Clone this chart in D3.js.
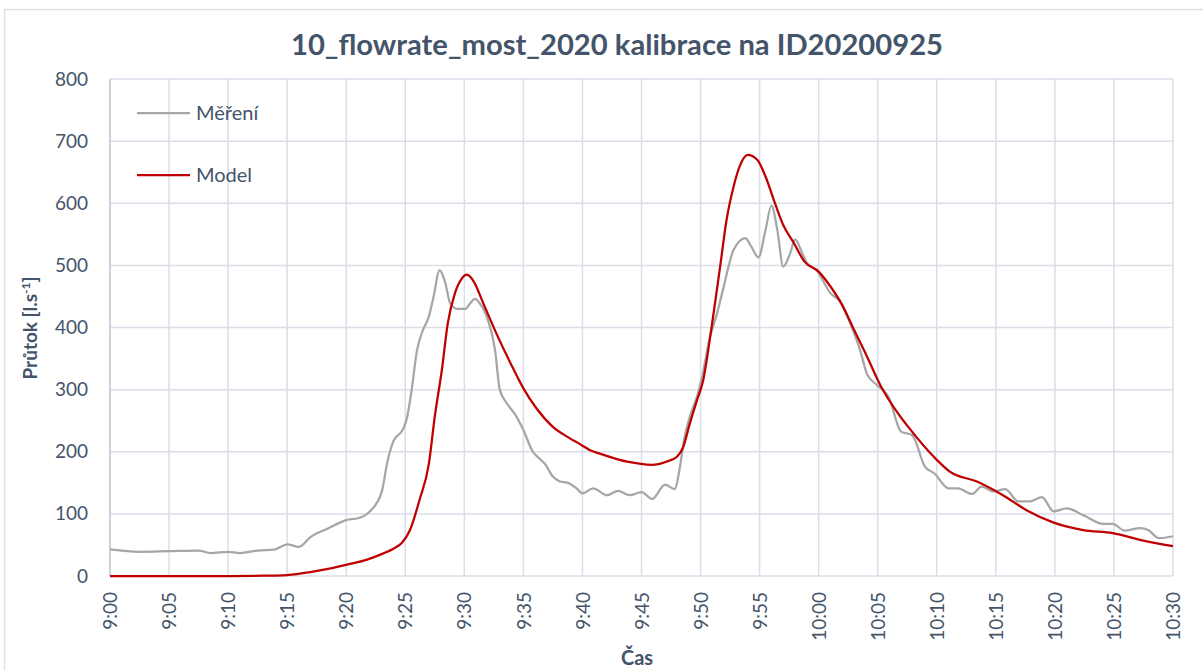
<!DOCTYPE html>
<html>
<head>
<meta charset="utf-8">
<script src="https://cdn.jsdelivr.net/npm/d3@7"></script>
<style>
  body { margin: 0; background: #fff; }
  svg { display: block; font-family: Lato, "Open Sans", sans-serif; }
</style>
</head>
<body>
<svg width="1203" height="670"></svg>
<script>
// minutes after 9:00 and flow [l/s]
var measMinutes = [0, 2.5, 5, 7.5, 8.5, 10, 11, 12.5, 14, 15, 16, 17, 18.5, 20, 21, 22, 23, 23.5, 24, 24.8, 25.1, 25.5, 26, 26.5, 27, 27.4, 27.9, 28.4, 28.8, 29.4, 30.1, 30.5, 30.9, 31.3, 32, 32.6, 33, 33.6, 34.4, 35, 35.8, 36.3, 36.8, 37.5, 38, 38.9, 39.5, 40, 40.9, 42.1, 43, 44, 45, 45.9, 47, 47.8, 48.3, 48.6, 49.1, 49.7, 50.1, 50.8, 51.4, 51.9, 52.8, 53.8, 54.3, 54.9, 55.5, 56, 56.5, 57, 57.6, 58, 58.6, 59, 59.8, 61, 61.8, 62.7, 63.5, 64.1, 64.9, 65.9, 67, 67.9, 69, 69.8, 71, 71.8, 73, 73.8, 74.8, 75.8, 76.9, 77.9, 78.9, 79.9, 81, 82.4, 84.1, 84.9, 85.9, 87.2, 87.9, 88.8, 90];
var measFlow = [43, 39, 40, 41, 37, 39, 37, 41, 43, 51, 47, 63, 77, 90, 93, 104, 135, 185, 217, 236, 251, 294, 364, 396, 418, 450, 492, 471, 439, 430, 430, 439, 446, 439, 412, 364, 300, 278, 257, 235, 200, 190, 181, 160, 153, 149, 141, 133, 141, 130, 137, 130, 135, 124, 147, 140, 181, 219, 257, 289, 318, 385, 423, 461, 525, 544, 530, 513, 557, 596, 557, 498, 520, 542, 520, 504, 493, 455, 442, 405, 364, 325, 308, 289, 232, 227, 176, 165, 141, 141, 132, 144, 136, 140, 120, 120, 127, 104, 109, 98, 84, 84, 73, 77, 74, 61, 64];

var modelMinutes = [0, 5, 10, 13, 15, 17.2, 18.9, 20, 21.7, 23.1, 24, 24.7, 25.4, 26.2, 27, 27.5, 28.1, 28.6, 29.2, 29.8, 30.2, 30.8, 31.6, 32.7, 33.9, 35, 36.1, 37.5, 38.9, 39.9, 40.6, 41.8, 43.8, 45.9, 47.1, 48, 48.5, 49.1, 49.7, 50.2, 50.9, 51.7, 52.2, 52.8, 53.3, 54, 54.8, 55.5, 56.3, 57, 57.9, 58.8, 60, 61, 62, 62.9, 64.1, 65.2, 66.9, 67.5, 70, 71.1, 73.4, 75.6, 77.6, 79.9, 82.4, 84.9, 87.5, 90];
var modelFlow = [0, 0, 0, 0.5, 1.5, 7, 13, 18, 26, 36, 44, 53, 74, 122, 181, 257, 332, 407, 455, 479, 485, 474, 439, 391, 343, 302, 270, 240, 222, 211, 203, 195, 184, 179, 184, 192, 206, 246, 283, 313, 396, 504, 573, 627, 659, 678, 670, 643, 600, 565, 536, 506, 490, 466, 436, 400, 353, 308, 257, 242, 187, 168, 152, 130, 106, 86, 74, 69, 57, 48];

var xTickLabels = ["9:00", "9:05", "9:10", "9:15", "9:20", "9:25", "9:30", "9:35", "9:40", "9:45", "9:50", "9:55", "10:00", "10:05", "10:10", "10:15", "10:20", "10:25", "10:30"];
var yTicks = [0, 100, 200, 300, 400, 500, 600, 700, 800];
var seriesNames = ["Měření", "Model"];

var svg = d3.select("svg");
var textColor = "#44546a";
var gridColor = "#d9dee8";

// outer chart frame
svg.append("rect")
  .attr("x", 4.5).attr("y", 9.5)
  .attr("width", 1210).attr("height", 680)
  .attr("fill", "none")
  .attr("stroke", "#dde2ea")
  .attr("stroke-width", 1.5);

var margin = {top: 79, right: 30, bottom: 94, left: 110},
    width = 1173 - margin.left,
    height = 576 - margin.top;

var g = svg.append("g")
  .attr("transform", "translate(" + margin.left + "," + margin.top + ")");

var x = d3.scaleLinear().domain([0, 90]).range([0, width]);
var y = d3.scaleLinear().domain([0, 800]).range([height, 0]);

// vertical gridlines
g.selectAll(".vgrid")
  .data(xTickLabels)
  .enter().append("line")
  .attr("class", "vgrid")
  .attr("x1", function(d, i) { return x(i * 5); })
  .attr("x2", function(d, i) { return x(i * 5); })
  .attr("y1", 0).attr("y2", height)
  .attr("stroke", gridColor).attr("stroke-width", 1.5);

// horizontal gridlines
g.selectAll(".hgrid")
  .data(yTicks)
  .enter().append("line")
  .attr("class", "hgrid")
  .attr("x1", 0).attr("x2", width)
  .attr("y1", function(d) { return y(d); })
  .attr("y2", function(d) { return y(d); })
  .attr("stroke", gridColor).attr("stroke-width", 1.5);

// y axis line
g.append("line")
  .attr("x1", 0).attr("x2", 0)
  .attr("y1", 0).attr("y2", height)
  .attr("stroke", "#c3cbd9").attr("stroke-width", 1.5);

// y axis
var yAxis = g.append("g")
  .call(d3.axisLeft(y).tickValues(yTicks).tickSize(0).tickPadding(22));
yAxis.select(".domain").remove();
yAxis.selectAll("text")
  .attr("fill", textColor)
  .style("font-size", "19px")
  .style("font-family", "Lato, sans-serif");

// x axis
var xAxis = g.append("g")
  .attr("transform", "translate(0," + height + ")")
  .call(d3.axisBottom(x)
    .tickValues(d3.range(0, 91, 5))
    .tickSize(0)
    .tickFormat(function(d, i) { return xTickLabels[i]; }));
xAxis.select(".domain").remove();
xAxis.selectAll("text")
  .attr("fill", textColor)
  .style("font-size", "19px")
  .style("font-family", "Lato, sans-serif")
  .attr("text-anchor", "end")
  .attr("transform", "rotate(-90)")
  .attr("x", -16)
  .attr("y", 0)
  .attr("dy", "0.35em");

// lines
var line = d3.line()
  .x(function(d) { return x(d[0]); })
  .y(function(d) { return y(d[1]); })
  .curve(d3.curveMonotoneX);

var measData = d3.zip(measMinutes, measFlow);
var modelData = d3.zip(modelMinutes, modelFlow);

g.append("path")
  .datum(measData)
  .attr("d", line)
  .attr("fill", "none")
  .attr("stroke", "#a6a6a6")
  .attr("stroke-width", 2.25);

g.append("path")
  .datum(modelData)
  .attr("d", line)
  .attr("fill", "none")
  .attr("stroke", "#c00000")
  .attr("stroke-width", 2.25);

// title
svg.append("text")
  .attr("x", 617).attr("y", 55)
  .attr("text-anchor", "middle")
  .attr("fill", textColor)
  .style("font-size", "28px")
  .style("font-weight", "bold")
  .attr("textLength", 652)
  .attr("lengthAdjust", "spacingAndGlyphs")
  .text("10_flowrate_most_2020 kalibrace na ID20200925");

// axis titles
svg.append("text")
  .attr("x", 637).attr("y", 665)
  .attr("text-anchor", "middle")
  .attr("fill", textColor)
  .style("font-size", "20px")
  .style("font-weight", "bold")
  .text("Čas");

var yTitle = svg.append("text")
  .attr("transform", "translate(37,328) rotate(-90)")
  .attr("text-anchor", "middle")
  .attr("fill", textColor)
  .style("font-size", "19px")
  .style("font-weight", "bold");
yTitle.append("tspan").text("Průtok [l.s");
yTitle.append("tspan").attr("dy", -7).style("font-size", "12px").text("-1");
yTitle.append("tspan").attr("dy", 7).text("]");

// legend
var legendColors = ["#a6a6a6", "#c00000"];
var legend = svg.selectAll(".legend")
  .data(seriesNames)
  .enter().append("g")
  .attr("class", "legend")
  .attr("transform", function(d, i) { return "translate(137," + (113 + i * 62) + ")"; });
legend.append("line")
  .attr("x1", 0).attr("x2", 53)
  .attr("stroke", function(d, i) { return legendColors[i]; })
  .attr("stroke-width", 2.25);
legend.append("text")
  .attr("x", 59).attr("dy", "0.35em")
  .attr("fill", textColor)
  .style("font-size", "20px")
  .text(function(d) { return d; });
</script>
</body>
</html>
